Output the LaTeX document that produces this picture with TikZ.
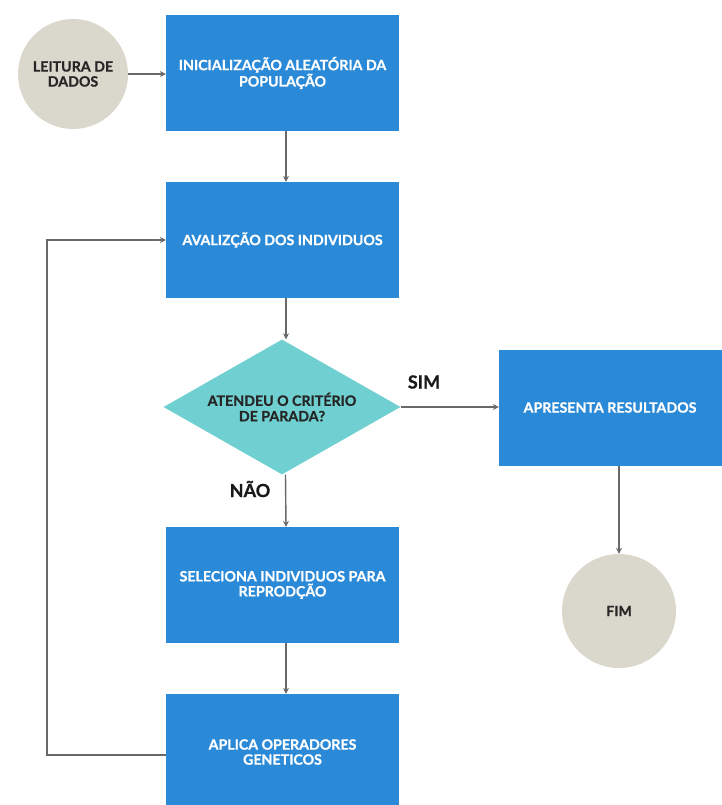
\documentclass[tikz,border=0pt]{standalone}
\usepackage{fontspec}
\setmainfont{Lato}[BoldFeatures={FakeBold=0.8}]
\usetikzlibrary{shapes.geometric,arrows.meta}
\definecolor{boxblue}{RGB}{43,138,216}
\definecolor{teal}{RGB}{112,207,208}
\definecolor{beige}{RGB}{218,215,204}
\definecolor{conn}{RGB}{105,105,105}
\begin{document}
\begin{tikzpicture}[x=1pt,y=-1pt,
  box/.style={rectangle,fill=boxblue,draw=none,minimum width=233pt,minimum height=116pt,
    text=white,font=\bfseries\fontsize{14.2}{15}\selectfont,align=center,inner sep=0pt},
  disc/.style={circle,fill=beige,draw=none,text=black!85,font=\bfseries\fontsize{14.2}{15}\selectfont,align=center,inner sep=0pt},
  decision/.style={diamond,fill=teal,draw=none,minimum width=237pt,minimum height=135pt,aspect=1.75,
    inner sep=0pt,text=black!85,font=\bfseries\fontsize{14.2}{15.5}\selectfont,align=center},
  conn/.style={draw=conn,line width=1.4pt,-{Stealth[length=6pt,width=6pt]}},
  lbl/.style={font=\bfseries\fontsize{18}{20}\selectfont,text=black!90,inner sep=0pt}]
\useasboundingbox (0,0) rectangle (722,805);
\begin{scope}
\clip (0,0) rectangle (722,805);
\node[disc,minimum size=110pt] (leitura) at (73,74) {LEITURA DE\\DADOS};
\node[box] (init) at (282.5,73) {INICIALIZAÇÃO ALEATÓRIA DA\\POPULAÇÃO};
\node[box] (aval) at (282.5,240) {AVALIZÇÃO DOS INDIVIDUOS};
\node[decision] (dec) at (282,407) {ATENDEU O CRITÉRIO\\DE PARADA?};
\node[box] (apres) at (615.5,407.5) {\hspace*{-11pt}APRESENTA RESULTADOS};
\node[disc,minimum size=114pt] (fim) at (619,611) {FIM};
\node[box] (sel) at (282.5,585) {SELECIONA INDIVIDUOS PARA\\REPRODÇÃO};
\node[box] (aplica) at (282.5,752) {APLICA OPERADORES\\GENETICOS};
\end{scope}
\node[lbl] (sim) at (424,382) {SIM};
\node[lbl] (nao) at (250,489) {NÃO};
\coordinate (loopa) at (166,755);
\coordinate (loopb) at (47,755);
\draw[conn] (leitura.east) -- (leitura.east -| init.west);
\draw[conn] ([xshift=3.5pt]init.south) -- ([xshift=3.5pt]aval.north);
\draw[conn] ([xshift=3.5pt]aval.south) -- ([xshift=3.5pt]aval.south |- dec.north);
\draw[conn] (dec.east) -- (dec.east -| apres.west);
\draw[conn] ([xshift=3.5pt]dec.south) -- ([xshift=3.5pt]sel.north);
\draw[conn] ([xshift=3.5pt]sel.south) -- ([xshift=3.5pt]aplica.north);
\draw[conn] (apres.south -| fim.north) -- (fim.north);
\draw[conn] (loopa) -- (loopb) |- (aval.west);
\end{tikzpicture}
\end{document}
